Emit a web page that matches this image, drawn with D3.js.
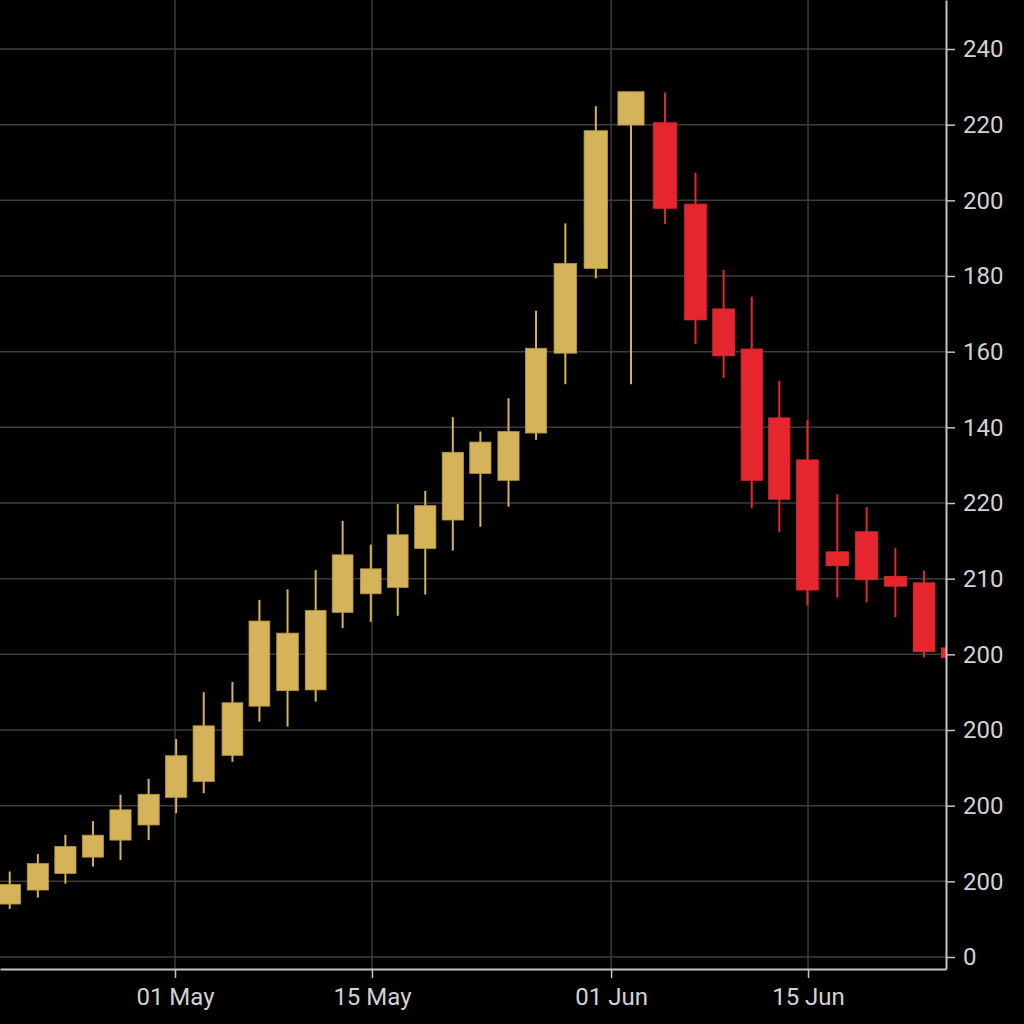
<!DOCTYPE html>
<html>
<head>
<meta charset="utf-8">
<script src="https://cdn.jsdelivr.net/npm/d3@7"></script>
<style>
  html, body { margin: 0; padding: 0; background: #000; }
  svg { display: block; }
</style>
</head>
<body>
<svg id="chart" width="1024" height="1024"></svg>
<script>
// ---- data ----
const dates = [
  "2024-04-19 06:00", "2024-04-21 06:00", "2024-04-23 05:00", "2024-04-25 04:00",
  "2024-04-27 03:00", "2024-04-29 03:00", "2024-05-01 02:00", "2024-05-03 01:00",
  "2024-05-05 02:00", "2024-05-07 00:00", "2024-05-09 00:00", "2024-05-11 00:00",
  "2024-05-12 22:00", "2024-05-14 22:00", "2024-05-16 20:00", "2024-05-18 19:00",
  "2024-05-20 18:00", "2024-05-22 17:00", "2024-05-24 17:00", "2024-05-26 16:00",
  "2024-05-28 18:00", "2024-05-30 22:00", "2024-06-02 10:00", "2024-06-04 20:00",
  "2024-06-07 00:00", "2024-06-09 00:00", "2024-06-11 00:00", "2024-06-12 23:00",
  "2024-06-14 23:00", "2024-06-17 02:00", "2024-06-19 04:00", "2024-06-21 05:00",
  "2024-06-23 06:00", "2024-06-25 06:00"
];
const openVals  = [14.0, 17.7, 22.1, 26.4, 30.9, 34.9, 42.2, 46.4, 53.3, 66.3, 70.4, 70.6,
                   91.1, 96.0, 97.7, 108.0, 115.5, 127.8, 126.0, 138.5, 159.6, 182.0, 219.9, 220.5,
                   199.0, 171.3, 160.7, 142.5, 131.4, 107.1, 112.4, 100.6, 98.9, 81.7];
const highVals  = [22.6, 27.2, 32.3, 35.9, 42.9, 47.1, 57.6, 70.0, 72.7, 94.4, 97.2, 102.3,
                   115.3, 109.0, 119.7, 123.2, 142.7, 138.9, 147.7, 170.8, 193.9, 224.9, 228.7, 228.5,
                   207.3, 181.6, 174.5, 152.3, 141.9, 122.3, 118.9, 108.1, 102.1, 81.7];
const lowVals   = [12.7, 15.7, 19.4, 23.9, 25.6, 30.9, 38.0, 43.3, 51.6, 62.2, 60.9, 67.5,
                   86.9, 88.6, 90.2, 95.8, 107.4, 113.7, 119.0, 136.7, 151.4, 179.4, 151.4, 193.8,
                   162.0, 153.1, 118.6, 112.3, 92.9, 95.0, 93.8, 89.8, 79.2, 79.0];
const closeVals = [19.2, 24.7, 29.2, 32.2, 38.9, 43.0, 53.2, 61.1, 67.2, 88.8, 85.6, 91.6,
                   106.3, 102.6, 111.6, 119.3, 133.4, 136.1, 138.9, 160.9, 183.3, 218.4, 228.7, 197.9,
                   168.4, 158.9, 126.0, 121.0, 97.0, 103.4, 99.7, 98.0, 80.7, 79.1];

const xTickDates = ["2024-05-01 00:00", "2024-05-15 00:00", "2024-06-01 00:00", "2024-06-15 00:00"];
const yTickValues = [240, 220, 200, 180, 160, 140, 120, 100, 80, 60, 40, 20, 0];
const yTickLabels = ["240", "220", "200", "180", "160", "140", "220", "210", "200", "200", "200", "200", "0"];

// ---- layout ----
const W = 1024, H = 1024;
const plotRight = 946, plotBottom = 969;
const parse = d3.utcParse("%Y-%m-%d %H:%M");
const GOLD = "#d5b35b", GOLD_EDGE = "#b8963f", RED = "#e5262e";

const candles = dates.map((d, i) => ({
  date: parse(d), o: openVals[i], h: highVals[i], l: lowVals[i], c: closeVals[i]
}));

const x = d3.scaleUtc()
  .domain([parse("2024-04-18 13:25"), parse("2024-06-24 19:26")])
  .range([0, plotRight]);
const y = d3.scaleLinear()
  .domain([-3.17, 252.95])
  .range([plotBottom, 0]);

const svg = d3.select("#chart");
svg.append("rect").attr("width", W).attr("height", H).attr("fill", "#000");

svg.append("defs").append("clipPath").attr("id", "plotclip")
  .append("rect").attr("x", 0).attr("y", 0).attr("width", plotRight).attr("height", plotBottom);

// gridlines
const grid = svg.append("g");
grid.selectAll("line.h").data(yTickValues).join("line")
  .attr("x1", 0).attr("x2", plotRight)
  .attr("y1", d => y(d)).attr("y2", d => y(d))
  .attr("stroke", "#3c3c3c").attr("stroke-width", 1.5);
grid.selectAll("line.v").data(xTickDates.map(parse)).join("line")
  .attr("x1", d => x(d)).attr("x2", d => x(d))
  .attr("y1", 0).attr("y2", plotBottom)
  .attr("stroke", "#3c3c3c").attr("stroke-width", 1.5);

// candles
const xs = candles.map(d => x(d.date));
const widths = xs.map((cx, i) => {
  const gaps = [];
  if (i > 0) gaps.push(cx - xs[i - 1]);
  if (i < xs.length - 1) gaps.push(xs[i + 1] - cx);
  return 0.77 * d3.min(gaps);
});

const cg = svg.append("g").attr("clip-path", "url(#plotclip)");
const cand = cg.selectAll("g.candle").data(candles).join("g");
cand.append("line")
  .attr("x1", (d, i) => xs[i]).attr("x2", (d, i) => xs[i])
  .attr("y1", d => y(d.h)).attr("y2", d => y(d.l))
  .attr("stroke", d => d.c >= d.o ? GOLD : RED)
  .attr("stroke-width", 2);
cand.append("rect")
  .attr("x", (d, i) => xs[i] - widths[i] / 2)
  .attr("width", (d, i) => widths[i])
  .attr("y", d => y(Math.max(d.o, d.c)))
  .attr("height", d => Math.max(1, Math.abs(y(d.o) - y(d.c))))
  .attr("fill", d => d.c >= d.o ? GOLD : RED)
  .attr("stroke", d => d.c >= d.o ? GOLD_EDGE : RED)
  .attr("stroke-width", 0.8);

// axes
const yAxis = d3.axisRight(y)
  .tickValues(yTickValues)
  .tickFormat((d, i) => yTickLabels[yTickValues.indexOf(d)])
  .tickSize(9).tickSizeOuter(0).tickPadding(8);
const ya = svg.append("g").attr("transform", `translate(${plotRight},0)`).call(yAxis);

const xAxis = d3.axisBottom(x)
  .tickValues(xTickDates.map(parse))
  .tickFormat(d3.utcFormat("%d %b"))
  .tickSize(9).tickSizeOuter(0).tickPadding(10);
const xa = svg.append("g").attr("transform", `translate(0,${plotBottom})`).call(xAxis);

[ya, xa].forEach(a => {
  a.select(".domain").attr("stroke", "#c4c4c4").attr("stroke-width", 2);
  a.selectAll(".tick line").attr("stroke", "#c4c4c4").attr("stroke-width", 1.5);
  a.selectAll(".tick text")
    .attr("fill", "#d2d2d2")
    .style("font-family", "Roboto, 'Noto Sans', sans-serif")
    .style("font-size", "24px");
});
</script>
</body>
</html>
